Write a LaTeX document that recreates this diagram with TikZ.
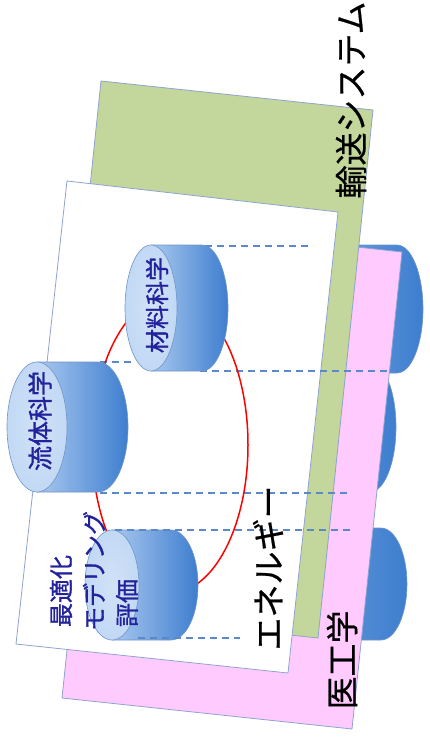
\documentclass[tikz,border=0pt]{standalone}
\usepackage{fontspec}
\newfontfamily\cjk[FakeBold=0.6]{Noto Sans CJK JP}
\newfontfamily\cjkb[FakeBold=1.2]{Noto Sans CJK JP}
\definecolor{greenfill}{HTML}{C3D69B}
\definecolor{pinkfill}{HTML}{FFCAFD}
\definecolor{planeedge}{HTML}{8FA3D0}
\definecolor{dashc}{HTML}{5A88C8}
\definecolor{cylface}{HTML}{C6DBF5}
\definecolor{cylL}{HTML}{A9C8EF}
\definecolor{cylR}{HTML}{3E7ECF}
\definecolor{cyledge}{HTML}{6E94C8}
\definecolor{navy}{HTML}{22229C}
\tikzset{
  plane/.style={draw=planeedge, line width=0.8pt, line join=round},
  cylbody/.style={draw=cyledge, line width=0.6pt, left color=cylL, right color=cylR},
  cylbodyR/.style={draw=cyledge, line width=0.6pt, left color=cylR!80, right color=cylR},
  cylface/.style={draw=cyledge, line width=0.6pt, inner color=cylface!80!white, outer color=cylface!85!cylL},
  guide/.style={draw=dashc, line width=1.3pt, dash pattern=on 7pt off 5pt},
  ring/.style={draw=red, line width=1.5pt},
  bluelbl/.style={font=\cjkb\fontsize{24}{24}\selectfont, text=navy, rotate=90, inner sep=0pt},
  biglbl/.style={font=\cjk\fontsize{33}{33}\selectfont, text=black, rotate=90, inner sep=0pt},
}
% name, cx, cy (image y, downward), rx, ry, length, body style
\newcommand\mycylbody[7]{%
  \coordinate (#1) at (#2,-#3);
  \path[#7] (#2,-#3+#5) -- ({#2+#6},-#3+#5)
     arc[start angle=90, end angle=-90, x radius=#4, y radius=#5]
     -- (#2,-#3-#5) -- cycle;
}
\newcommand\mycylface[5]{%
  \path[cylface] (#2,-#3) ellipse [x radius=#4, y radius=#5];
}
\begin{document}
\begin{tikzpicture}[x=1pt,y=1pt]
\useasboundingbox (0,0) rectangle (429,-738);

% right-hand cylinders, behind the pink plane
\mycylbody{r1}{345}{309}{26}{64}{52}{cylbodyR}
\mycylbody{r2}{310}{427}{26}{65}{60}{cylbodyR}
\mycylbody{r3}{310}{584}{26}{56}{71}{cylbodyR}

% planes
\path[plane, fill=pinkfill] (112,-220) coordinate (p1) -- (402,-252) coordinate (p2)
  -- (352,-729) coordinate (p3) -- (62,-698) coordinate (p4) -- cycle;
\path[plane, fill=greenfill] (101,-81) coordinate (g1) -- (373,-110) coordinate (g2)
  -- (318,-638) coordinate (g3) -- (46,-609) coordinate (g4) -- cycle;
\path[plane, fill=white] (67,-181) coordinate (w1) -- (338,-212) coordinate (w2)
  -- (288,-673) coordinate (w3) -- (16,-644) coordinate (w4) -- cycle;

% guide lines
\coordinate (d1a) at (205,-246); \coordinate (d1b) at (313,-246);
\coordinate (d2a) at (200,-371); \coordinate (d2b) at (388,-371);
\coordinate (d3a) at (100,-362); \coordinate (d3b) at (135,-362);
\coordinate (d4a) at (100,-493); \coordinate (d4b) at (350,-493);
\coordinate (d5a) at (115,-530); \coordinate (d5b) at (353,-530);
\coordinate (d6a) at (138,-638); \coordinate (d6b) at (240,-638);
\draw[guide] (d1a) -- (d1b);
\draw[guide] (d2a) -- (d2b);
\draw[guide] (d3a) -- (d3b);
\draw[guide] (d4a) -- (d4b);

% red ring
\coordinate (ringc) at (170,-445);
\path[ring] (ringc) ellipse [x radius=78, y radius=148];

% cylinders on the white plane
\mycylbody{c2}{37}{427}{30}{65}{61}{cylbody}
\mycylface{c2f}{37}{427}{30}{65}
\mycylbody{c1}{151}{308}{26}{63}{51}{cylbody}
\mycylface{c1f}{151}{308}{26}{63}
\mycylbody{c3}{112}{585}{27}{55}{59}{cylbody}
\mycylface{c3f}{112}{585}{27}{55}

\draw[guide] (d5a) -- (d5b);
\draw[guide] (d6a) -- (d6b);

% labels
\node[bluelbl] (t1) at (157,-305) {材料科学};
\node[bluelbl, font=\cjkb\fontsize{25}{25}\selectfont] (t2) at (40,-421) {流体科学};
\node[bluelbl] (t3) at (61,-591) {最適化};
\node[bluelbl] (t4) at (94,-571) {モデリング};
\node[bluelbl] (t5) at (127,-603) {評価};
\node[biglbl] (e1) at (268,-568) {エネルギー};
\node[biglbl] (e2) at (351,-100) {輸送システム};
\node[biglbl] (e3) at (342,-660) {医工学};
\end{tikzpicture}
\end{document}
